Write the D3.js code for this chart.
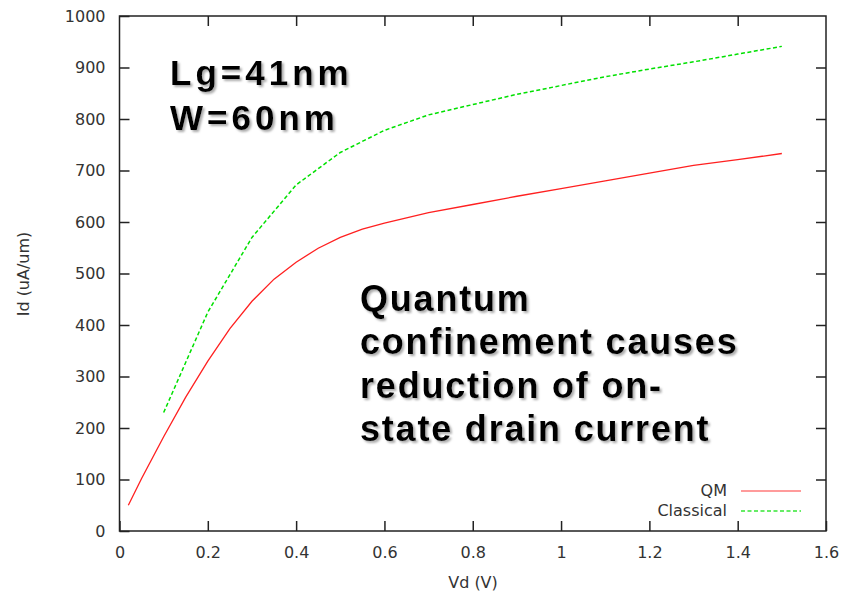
<!DOCTYPE html>
<html><head><meta charset="utf-8">
<script src="https://cdn.jsdelivr.net/npm/d3@7"></script>
<style>
html,body{margin:0;padding:0;background:#fff;}
svg{display:block;}
</style></head>
<body>
<svg id="chart" width="846" height="594"></svg>
<script>
const vdQM = [0.02, 0.05, 0.1, 0.15, 0.2, 0.25, 0.3, 0.35, 0.4, 0.45, 0.5, 0.55, 0.6, 0.7, 0.8, 0.9, 1.0, 1.1, 1.2, 1.3, 1.4, 1.5];
const idQM = [50, 102, 183, 260, 330, 393, 446, 489, 522, 549, 570, 586, 598, 618, 634, 650, 665, 680, 695, 710, 721, 733];
const vdClassical = [0.1, 0.2, 0.3, 0.4, 0.5, 0.6, 0.7, 0.8, 0.9, 1.0, 1.1, 1.2, 1.3, 1.4, 1.5];
const idClassical = [230, 425, 570, 672, 735, 778, 808, 828, 848, 865, 882, 897, 911, 926, 941];
const xTicks = [0, 0.2, 0.4, 0.6, 0.8, 1, 1.2, 1.4, 1.6];
const yTicks = [0, 100, 200, 300, 400, 500, 600, 700, 800, 900, 1000];
const seriesNames = ["QM", "Classical"];
const annoTop = ["Lg=41nm", "W=60nm"];
const annoMain = ["Quantum", "confinement causes", "reduction of on-", "state drain current"];

const svg = d3.select("#chart");
const L = 119.5, R = 826, T = 16, B = 531;
const x = d3.scaleLinear().domain([0, 1.6]).range([L, R]);
const y = d3.scaleLinear().domain([0, 1000]).range([B, T]);
const font = "DejaVu Sans, sans-serif";
const axisColor = "#222";

const defs = svg.append("defs");
const f = defs.append("filter").attr("id", "shadow").attr("x", "-10%").attr("y", "-20%")
  .attr("width", "130%").attr("height", "150%");
f.append("feDropShadow").attr("dx", 2).attr("dy", 2).attr("stdDeviation", 0.8)
  .attr("flood-color", "#888").attr("flood-opacity", 0.7);

// frame
svg.append("rect").attr("x", L).attr("y", T).attr("width", R - L).attr("height", B - T)
  .attr("fill", "none").attr("stroke", axisColor).attr("stroke-width", 1.5);

function styleAxis(g, labels) {
  g.select(".domain").remove();
  g.selectAll(".tick line").attr("stroke", axisColor).attr("stroke-width", 1.5);
  g.selectAll(".tick text").attr("fill", "#333").style("font-family", font).style("font-size", "16px");
  if (!labels) g.selectAll(".tick text").remove();
}
const fmtX = d => String(d);
svg.append("g").attr("transform", `translate(0,${B})`)
  .call(d3.axisBottom(x).tickValues(xTicks).tickSize(-10).tickPadding(16).tickFormat(fmtX))
  .call(g => styleAxis(g, true));
svg.append("g").attr("transform", `translate(0,${T})`)
  .call(d3.axisTop(x).tickValues(xTicks.slice(1, -1)).tickSize(-10))
  .call(g => styleAxis(g, false));
svg.append("g").attr("transform", `translate(${L},0)`)
  .call(d3.axisLeft(y).tickValues(yTicks).tickSize(-10).tickPadding(14).tickFormat(d3.format("d")))
  .call(g => styleAxis(g, true));
svg.append("g").attr("transform", `translate(${R},0)`)
  .call(d3.axisRight(y).tickValues(yTicks.slice(1, -1)).tickSize(-10))
  .call(g => styleAxis(g, false));

// axis labels
svg.append("text").attr("x", 473).attr("y", 588).attr("text-anchor", "middle")
  .attr("fill", "#333").style("font-family", font).style("font-size", "16px").text("Vd (V)");
svg.append("text").attr("transform", "translate(29,274) rotate(-90)").attr("text-anchor", "middle")
  .attr("fill", "#333").style("font-family", font).style("font-size", "16px").text("Id (uA/um)");

// lines
const line = d3.line().x(d => x(d[0])).y(d => y(d[1]));
const qmData = vdQM.map((v, i) => [v, idQM[i]]);
const clData = vdClassical.map((v, i) => [v, idClassical[i]]);
const colors = ["#ff2020", "#00e000"];
svg.append("path").datum(qmData).attr("d", line).attr("fill", "none")
  .attr("stroke", colors[0]).attr("stroke-width", 1.3);
svg.append("path").datum(clData).attr("d", line).attr("fill", "none")
  .attr("stroke", colors[1]).attr("stroke-width", 1.5).attr("stroke-dasharray", "4,2.5");

// legend
const legY = [491, 511];
seriesNames.forEach((n, i) => {
  svg.append("text").attr("x", 727).attr("y", legY[i] + 5).attr("text-anchor", "end")
    .attr("fill", "#333").style("font-family", font).style("font-size", "16px").text(n);
  svg.append("line").attr("x1", 741).attr("x2", 801).attr("y1", legY[i]).attr("y2", legY[i])
    .attr("stroke", colors[i]).attr("stroke-width", i === 0 ? 1.6 : 1.5)
    .attr("stroke-opacity", i === 0 ? 0.6 : 0.8)
    .attr("stroke-dasharray", i === 0 ? null : "4,2.5");
});

// annotations with drop shadow
function shadowText(str, tx, ty, size, ls) {
  svg.append("text").attr("x", tx).attr("y", ty).attr("fill", "#000").attr("filter", "url(#shadow)")
    .style("font-family", "Liberation Sans, Arial, sans-serif").style("font-weight", "bold")
    .style("font-size", size + "px").style("letter-spacing", ls + "px").text(str);
}
annoTop.forEach((s, i) => shadowText(s, 170, 85 + i * 45, 35, 4));
annoMain.forEach((s, i) => shadowText(s, 360, 311 + i * 43.3, 36, 1.8));
</script>
</body></html>
